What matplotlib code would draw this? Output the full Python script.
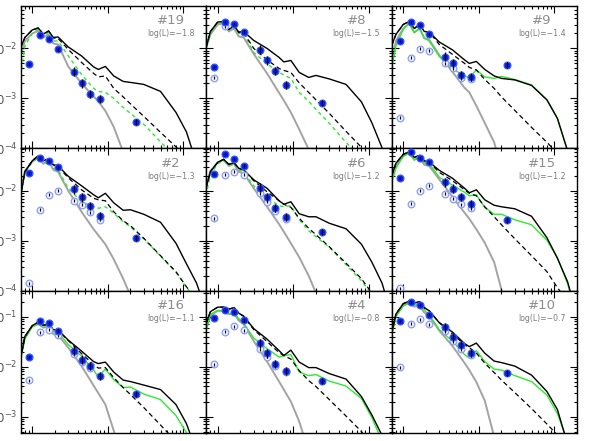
import numpy as np
import matplotlib
matplotlib.use("Agg")
import matplotlib.pyplot as plt
from matplotlib.ticker import LogLocator

N = np.nan

# 模型曲线的波长网格 (micron)
WAVE_MODEL = [0.7, 0.8, 1.0, 1.2, 1.4, 1.65, 1.9, 2.2, 3.0, 4.5, 6.5, 7.5,
              9.3, 12, 16, 20, 30, 50, 80, 110, 150, 200]

# 测光波段 (micron)
WAVE_PHOT = [0.9, 1.25, 1.65, 2.2, 3.6, 4.5, 5.8, 8.0, 24.0]

PANEL_IDS = ["#19", "#8", "#9", "#2", "#6", "#15", "#16", "#4", "#10"]
LOG_L = ["-1.8", "-1.5", "-1.4", "-1.3", "-1.2", "-1.2", "-1.1", "-0.8", "-0.7"]
FIT_DASHED = [True, True, False, True, True, False, False, False, False]

# 黑色实线: star + disk 总模型 (log10 flux)
LOG_TOTAL = [
    [-1.99, -1.78, -1.63, -1.59, -1.71, -1.65, -1.78, -1.77, -1.97, -2.15, -2.37, -2.42, -2.36, -2.55, -2.66, -2.68, -2.72, -2.86, -3.28, -3.67, -4.3, -4.8],
    [-1.99, -1.66, -1.47, -1.46, -1.62, -1.55, -1.67, -1.66, -1.84, -2.00, -2.18, -2.27, -2.24, -2.48, -2.58, -2.54, -2.61, -2.72, -3.07, -3.49, -3.99, -4.6],
    [-1.95, -1.72, -1.52, -1.46, -1.60, -1.52, -1.66, -1.67, -1.87, -2.03, -2.23, -2.30, -2.26, -2.42, -2.55, -2.60, -2.63, -2.74, -3.03, -3.40, -4.05, -4.7],
    [-2.12, -1.62, -1.40, -1.30, -1.40, -1.36, -1.48, -1.50, -1.71, -1.90, -2.08, -2.14, -2.05, -2.24, -2.39, -2.38, -2.47, -2.63, -3.05, -3.46, -3.85, -4.4],
    [-1.95, -1.62, -1.43, -1.37, -1.47, -1.44, -1.55, -1.58, -1.78, -1.95, -2.20, -2.27, -2.22, -2.46, -2.52, -2.52, -2.65, -2.76, -3.07, -3.43, -3.85, -4.5],
    [-1.71, -1.45, -1.27, -1.22, -1.33, -1.29, -1.40, -1.42, -1.59, -1.75, -1.95, -2.04, -1.98, -2.18, -2.29, -2.32, -2.36, -2.51, -2.94, -3.35, -3.82, -4.5],
    [-1.85, -1.40, -1.18, -1.11, -1.17, -1.15, -1.26, -1.27, -1.47, -1.69, -1.90, -1.94, -1.91, -2.11, -2.27, -2.30, -2.37, -2.46, -2.76, -3.14, -3.70, -4.3],
    [-1.14, -0.90, -0.81, -0.81, -0.85, -0.82, -0.93, -0.99, -1.24, -1.45, -1.68, -1.78, -1.67, -1.91, -2.02, -2.02, -2.14, -2.25, -2.60, -2.97, -3.38, -4.0],
    [-1.36, -0.95, -0.74, -0.69, -0.73, -0.70, -0.82, -0.88, -1.12, -1.31, -1.54, -1.60, -1.53, -1.73, -1.89, -1.92, -1.99, -2.17, -2.50, -2.86, -3.55, -4.2],
]

# 黑色虚线模型
LOG_PASSIVE = [
    [-1.99, -1.78, -1.63, -1.59, -1.71, -1.65, -1.79, -1.80, -2.02, -2.28, -2.50, -2.57, -2.55, -2.80, -2.97, -3.11, -3.36, -3.68, -3.97, -4.2, -4.45, -4.7],
    [-1.99, -1.66, -1.47, -1.46, -1.62, -1.55, -1.68, -1.68, -2.00, -2.23, -2.40, -2.44, -2.48, -2.69, -2.88, -3.03, -3.30, -3.66, -3.98, -4.2, -4.5, -4.8],
    [-1.95, -1.72, -1.52, -1.46, -1.60, -1.52, -1.66, -1.67, -1.92, -2.12, -2.30, -2.38, -2.43, -2.62, -2.80, -2.97, -3.24, -3.58, -3.88, -4.1, -4.4, -4.7],
    [-2.12, -1.62, -1.40, -1.30, -1.40, -1.36, -1.48, -1.52, -1.74, -1.98, -2.15, -2.18, -2.20, -2.42, -2.60, -2.70, -2.95, -3.30, -3.62, -3.92, -4.2, -4.5],
    [-1.95, -1.62, -1.43, -1.37, -1.47, -1.44, -1.55, -1.58, -1.80, -2.02, -2.20, -2.27, -2.33, -2.55, -2.75, -2.88, -3.12, -3.45, -3.76, -4.05, -4.35, -4.7],
    [-1.71, -1.45, -1.27, -1.22, -1.33, -1.29, -1.40, -1.43, -1.63, -1.80, -1.98, -2.05, -2.10, -2.32, -2.52, -2.68, -2.96, -3.30, -3.62, -3.94, -4.2, -4.5],
    [-1.85, -1.40, -1.18, -1.11, -1.17, -1.15, -1.26, -1.27, -1.48, -1.74, -1.96, -2.03, -2.02, -2.22, -2.42, -2.56, -2.82, -3.17, -3.50, -3.75, -4.0, -4.3],
    [-1.14, -0.90, -0.81, -0.81, -0.85, -0.82, -0.93, -0.99, -1.26, -1.50, -1.72, -1.78, -1.85, -2.08, -2.28, -2.40, -2.66, -2.99, -3.30, -3.60, -3.90, -4.2],
    [-1.36, -0.95, -0.74, -0.69, -0.73, -0.70, -0.82, -0.88, -1.12, -1.35, -1.56, -1.62, -1.73, -1.93, -2.12, -2.27, -2.52, -2.84, -3.15, -3.37, -3.60, -3.9],
]

# 绿色: 最佳拟合模型
LOG_FIT = [
    [-2.55, -1.95, -1.70, -1.62, -1.74, -1.68, -1.85, -1.85, -2.15, -2.52, -2.80, -2.86, -2.88, -3.00, -3.18, -3.30, -3.52, -3.87, -4.2, -4.4, -4.6, -4.8],
    [-2.00, -1.70, -1.50, -1.48, -1.63, -1.56, -1.70, -1.70, -2.08, -2.31, -2.48, -2.53, -2.60, -2.88, -3.06, -3.22, -3.50, -3.88, -4.2, -4.4, -4.6, -4.8],
    [-2.42, -1.95, -1.62, -1.50, -1.68, -1.60, -1.78, -1.85, -2.16, -2.41, -2.55, -2.59, -2.43, -2.57, -2.60, -2.56, -2.62, -2.73, -3.03, -3.40, -4.05, -4.7],
    [-2.15, -1.65, -1.42, -1.33, -1.45, -1.39, -1.55, -1.58, -1.95, -2.22, -2.32, -2.35, -2.32, -2.45, -2.62, -2.72, -2.96, -3.31, -3.63, -3.93, -4.2, -4.5],
    [-2.10, -1.68, -1.46, -1.39, -1.50, -1.46, -1.58, -1.62, -1.90, -2.14, -2.30, -2.32, -2.30, -2.58, -2.80, -2.92, -3.13, -3.48, -3.80, -4.08, -4.35, -4.7],
    [-1.85, -1.55, -1.31, -1.24, -1.38, -1.32, -1.44, -1.45, -1.73, -1.89, -2.03, -2.10, -2.08, -2.33, -2.47, -2.47, -2.58, -2.68, -2.99, -3.34, -3.86, -4.5],
    [-1.88, -1.45, -1.20, -1.14, -1.19, -1.17, -1.30, -1.31, -1.56, -1.79, -2.07, -2.21, -2.05, -2.26, -2.42, -2.41, -2.55, -2.66, -2.98, -3.32, -3.90, -4.5],
    [-1.30, -0.95, -0.88, -0.89, -0.94, -0.93, -1.04, -1.13, -1.43, -1.64, -1.81, -1.78, -1.76, -2.11, -2.18, -2.16, -2.29, -2.39, -2.64, -3.02, -3.50, -4.1],
    [-1.39, -1.00, -0.78, -0.72, -0.77, -0.74, -0.86, -0.97, -1.26, -1.49, -1.76, -1.83, -1.68, -1.90, -2.05, -2.07, -2.18, -2.30, -2.57, -2.94, -3.50, -4.2],
]

# 灰色: 恒星光球
LOG_STAR = [
    [-2.15, -1.85, -1.70, -1.65, -1.78, -1.72, -1.90, -1.92, -2.36, -2.70, -2.96, -3.06, -3.25, -3.57, -4.07, -4.5, N, N, N, N, N, N],
    [-2.00, -1.72, -1.52, -1.50, -1.66, -1.60, -1.76, -1.78, -2.11, -2.50, -2.89, -3.04, -3.28, -3.62, -4.02, -4.5, N, N, N, N, N, N],
    [-2.30, -1.85, -1.60, -1.50, -1.68, -1.60, -1.80, -1.82, -2.13, -2.47, -2.79, -2.88, -3.15, -3.49, -3.88, -4.4, N, N, N, N, N, N],
    [-2.00, -1.60, -1.42, -1.33, -1.46, -1.40, -1.58, -1.62, -2.00, -2.42, -2.77, -2.89, -3.07, -3.37, -3.76, -4.10, N, N, N, N, N, N],
    [-1.90, -1.60, -1.43, -1.38, -1.50, -1.46, -1.62, -1.65, -1.95, -2.32, -2.67, -2.82, -3.05, -3.33, -3.70, -4.05, N, N, N, N, N, N],
    [-1.80, -1.50, -1.30, -1.24, -1.38, -1.33, -1.48, -1.50, -1.77, -2.12, -2.44, -2.56, -2.77, -3.04, -3.43, -3.98, N, N, N, N, N, N],
    [-1.70, -1.40, -1.20, -1.15, -1.22, -1.20, -1.35, -1.37, -1.62, -1.99, -2.38, -2.53, -2.76, -3.28, -4.00, -4.6, N, N, N, N, N, N],
    [-1.20, -0.98, -0.88, -0.88, -0.95, -0.94, -1.08, -1.15, -1.49, -1.90, -2.30, -2.46, -2.70, -3.10, -3.70, -4.3, N, N, N, N, N, N],
    [-1.30, -0.98, -0.78, -0.73, -0.80, -0.78, -0.92, -0.98, -1.28, -1.59, -1.93, -2.07, -2.31, -2.68, -3.40, -4.0, N, N, N, N, N, N],
]

# 蓝色实心点: 消光改正后的测光
LOG_PHOT = [
    [-2.32, -1.74, -1.82, -2.02, -2.47, -2.70, -2.91, -3.02, -3.47],
    [-2.37, -1.47, -1.51, -1.67, -2.03, -2.24, -2.46, -2.73, -3.10],
    [-1.85, -1.47, -1.54, -1.72, -2.17, -2.30, -2.53, -2.57, -2.33],
    [-1.64, -1.35, -1.40, -1.53, -1.97, -2.13, -2.30, -2.50, -2.94],
    [-1.67, -1.27, -1.36, -1.50, -1.94, -2.13, -2.34, -2.53, -2.82],
    [-1.74, -1.23, -1.34, -1.43, -1.83, -1.96, -2.13, -2.26, -2.58],
    [-1.81, -1.09, -1.13, -1.28, -1.68, -1.86, -1.99, -2.19, -2.55],
    [-1.03, -0.87, -0.91, -1.07, -1.53, -1.73, -1.95, -2.09, -2.29],
    [-1.09, -0.71, -0.76, -0.96, -1.21, -1.41, -1.56, -1.73, -2.13],
]

# 浅蓝空心圆: 观测值 (未改正)
LOG_OBS = [
    [N, N, N, N, N, N, N, N, N],
    [-2.59, -1.56, N, N, N, N, N, N, N],
    [-3.39, -2.19, -2.01, -2.05, -2.30, -2.40, -2.60, -2.62, N],
    [-3.85, -2.38, -2.08, -2.00, -2.20, -2.28, -2.43, -2.58, N],
    [-2.55, -1.68, -1.62, -1.68, -2.05, -2.22, -2.40, -2.56, N],
    [-3.95, -2.26, -2.00, -1.90, -2.06, -2.16, -2.27, -2.35, N],
    [-2.27, -1.31, -1.26, -1.37, -1.75, -1.90, -2.02, N, N],
    [-1.95, -1.30, -1.19, -1.27, -1.65, -1.80, -1.98, -2.10, N],
    [-2.01, -1.14, -1.05, -1.15, -1.29, -1.49, -1.65, -1.77, N],
]

# 误差 (dex)
ERR_PHOT = [0.02, 0.02, 0.02, 0.03, 0.09, 0.09, 0.08, 0.08, 0.06]
ERR_OBS = 0.03

# 每行的y范围 (log10)
ROW_YLIM = [(-4.0, -1.15), (-4.0, -1.15), (-3.33, -0.48)]
XLIM = (0.7, 200)


def asym_err(logv, err):
    v = 10.0 ** logv
    return np.vstack([v - 10.0 ** (logv - err), 10.0 ** (logv + err) - v])


def draw_panel(ax, i):
    wm = np.array(WAVE_MODEL)
    wp = np.array(WAVE_PHOT)

    ax.plot(wm, 10.0 ** np.array(LOG_STAR[i]), color="#a3a3a3", lw=1.4, zorder=1)

    if FIT_DASHED[i]:
        ax.plot(wm, 10.0 ** np.array(LOG_FIT[i]), color="#2fe82f", lw=1.0,
                dashes=(2.6, 2.4), zorder=2)
    else:
        ax.plot(wm, 10.0 ** np.array(LOG_FIT[i]), color="#2fe82f", lw=1.0, zorder=2)

    ax.plot(wm, 10.0 ** np.array(LOG_PASSIVE[i]), color="black", lw=0.9,
            dashes=(3.8, 2.6), zorder=3)
    ax.plot(wm, 10.0 ** np.array(LOG_TOTAL[i]), color="black", lw=1.0, zorder=4)

    # 未改正观测
    obs = np.array(LOG_OBS[i])
    ok = ~np.isnan(obs)
    if ok.any():
        ax.plot(wp[ok], 10.0 ** obs[ok], "o", ms=4.8, mfc="#eef0ff",
                mec="#8c9cf0", mew=0.9, zorder=5)
        ax.errorbar(wp[ok], 10.0 ** obs[ok], yerr=asym_err(obs[ok], ERR_OBS),
                    fmt="none", ecolor="black", elinewidth=0.8, zorder=6)

    # 改正后的测光
    phot = np.array(LOG_PHOT[i])
    ax.plot(wp, 10.0 ** phot, "o", ms=5.0, mfc="#0a1ee6", mec="#3a5cff",
            mew=0.8, zorder=7)
    ax.errorbar(wp, 10.0 ** phot, yerr=asym_err(phot, np.array(ERR_PHOT)),
                fmt="none", ecolor="black", elinewidth=0.9, zorder=8)

    ax.text(0.81, 0.895, PANEL_IDS[i], transform=ax.transAxes, ha="center",
            va="center", fontsize=9.5, color="#8c8c8c")
    ax.text(0.81, 0.805, "log(L)=" + LOG_L[i].replace("-", "\u2212"),
            transform=ax.transAxes, ha="center", va="center",
            fontsize=5.6, color="#7a7a7a")


def main():
    fig = plt.figure(figsize=(5.98, 4.41), dpi=100)
    axes = fig.subplots(3, 3)
    fig.subplots_adjust(left=0.0343, right=0.9649, top=0.9864, bottom=0.0181,
                        wspace=0, hspace=0)

    for i, ax in enumerate(axes.flat):
        row, col = divmod(i, 3)
        ax.set_xscale("log")
        ax.set_yscale("log")

        draw_panel(ax, i)

        ax.set_xlim(*XLIM)
        lo, hi = ROW_YLIM[row]
        ax.set_ylim(10.0 ** lo, 10.0 ** hi)

        # 小刻度
        ax.xaxis.set_minor_locator(LogLocator(base=10, subs=np.arange(2, 10), numticks=20))
        ax.yaxis.set_minor_locator(LogLocator(base=10, subs=np.arange(2, 10), numticks=20))

        ax.tick_params(which="both", direction="in", top=True, right=True,
                       labelbottom=False, labelleft=(col == 0),
                       width=0.8, labelsize=8.5, labelcolor="#555555", pad=2)
        ax.tick_params(which="major", length=5)
        ax.tick_params(which="minor", length=2.5)
        for sp in ax.spines.values():
            sp.set_linewidth(1.0)

    fig.savefig("out.png", dpi=100, facecolor="white")


main()
